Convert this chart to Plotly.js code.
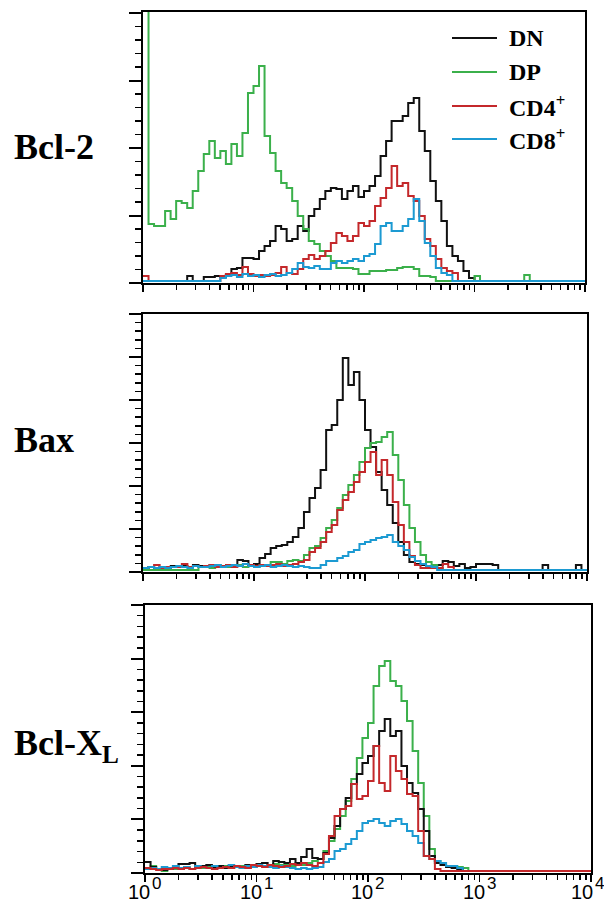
<!DOCTYPE html>
<html>
<head>
<meta charset="utf-8">
<script src="https://cdn.plot.ly/plotly-3.0.1.min.js"></script>
<style>html,body{margin:0;padding:0;background:#fff;}#chart{width:604px;height:904px;}</style>
</head>
<body>
<div id="chart"></div>
<script>
// Fluorescence channel positions (log10 of intensity), shared by all histograms
const logChannel = [0,0.05,0.1,0.15,0.2,0.25,0.3,0.35,0.4,0.45,0.5,0.55,0.6,0.65,0.7,0.75,0.8,0.85,0.9,0.95,
1,1.05,1.1,1.15,1.2,1.25,1.3,1.35,1.4,1.45,1.5,1.55,1.6,1.65,1.7,1.75,1.8,1.85,1.9,1.95,
2,2.05,2.1,2.15,2.2,2.25,2.3,2.35,2.4,2.45,2.5,2.55,2.6,2.65,2.7,2.75,2.8,2.85,2.9,2.95,
3,3.05,3.1,3.15,3.2,3.25,3.3,3.35,3.4,3.45,3.5,3.55,3.6,3.65,3.7,3.75,3.8,3.85,3.9,3.95,4];

const seriesNames = ["DN", "DP", "CD4<sup>+</sup>", "CD8<sup>+</sup>"];
const panelNames = ["Bcl-2", "Bax", "Bcl-X<sub>L</sub>"];
const decadeVals = [1, 10, 100, 1000, 10000];
const decadeBase = "10";
const decadeExp = ["0", "1", "2", "3", "4"];
const minorVals = [2,3,4,5,6,7,8,9, 20,30,40,50,60,70,80,90, 200,300,400,500,600,700,800,900, 2000,3000,4000,5000,6000,7000,8000,9000];

// Bcl-2 panel
const bcl2_DN = [0,0,0,0,0,0,0,0,5,0, 0,4,4,5,4,6,12,13,23,23, 22,30,35,40,55,52,40,42,55,50,
65,72,82,90,93,92,82,90,95,84, 90,95,105,125,140,160,160,165,178,183, 150,130,100,80,60,35,25,20,10,3,
0,0,0,0,0,0,0,0,0,0, 0,0,0,0,0,0,0,0,0,0, 0];
const bcl2_DP = [300,57,55,55,70,62,80,78,73,90, 110,127,140,123,130,117,137,125,148,188, 195,215,145,128,110,98,93,80,65,52,
40,37,30,25,20,13,13,13,12,7, 7,10,10,10,11,11,13,14,14,12, 5,5,4,0,0,0,0,0,0,0,
5,0,0,0,0,0,0,0,0,6, 0,0,0,0,0,0,0,0,0,0, 0];
const bcl2_CD4 = [5,0,0,0,0,0,0,0,0,0, 0,0,0,0,5,7,8,6,14,7, 5,6,5,6,8,14,8,7,12,22,
26,22,25,30,38,48,45,40,45,58, 55,60,75,83,93,115,95,98,85,80, 65,42,35,22,13,10,8,0,0,0,
0,0,0,0,0,0,0,0,0,0, 0,0,0,0,0,0,0,0,0,0, 0];
const bcl2_CD8 = [0,0,0,0,0,0,0,0,0,0, 0,0,0,0,3,5,6,4,7,5, 6,4,6,7,5,6,8,12,18,14,
13,15,12,12,18,20,18,20,22,20, 25,27,37,55,58,50,50,55,62,82, 60,38,25,13,8,6,0,0,0,0,
0,0,0,0,0,0,0,0,0,0, 0,0,0,0,0,0,0,0,0,0, 0];

// Bax panel
const bax_DN = [0,3,0,3,0,4,3,4,3,5, 4,3,5,4,3,5,4,10,9,5, 6,12,16,22,24,25,28,33,42,58,
72,82,100,140,145,170,212,185,198,170, 140,123,98,80,65,47,28,15,8,6, 5,4,3,5,9,8,4,6,2,3,
6,6,6,5,0,0,0,0,0,0, 0,0,5,0,0,0,0,0,5,0, 0];
const bax_DP = [0,0,0,0,0,0,0,0,0,0, 3,4,2,5,3,3,4,5,3,4, 3,5,4,8,8,6,9,10,9,15,
22,24,32,42,50,62,75,85,95,108, 122,127,128,133,138,115,90,65,42,28, 15,8,5,2,0,0,0,0,0,0,
0,0,0,0,0,0,0,0,0,0, 0,0,0,0,0,0,0,0,0,0, 0];
const bax_CD4 = [2,3,5,2,3,3,3,6,3,4, 3,4,5,3,4,5,3,4,6,5, 4,5,4,5,6,4,5,6,8,10,
18,22,28,38,45,60,70,78,88,98, 108,118,95,110,95,68,45,28,14,5, 2,2,2,2,6,3,0,0,0,0,
0,0,0,0,0,0,0,0,0,0, 0,0,0,0,0,0,0,0,0,0, 0];
const bax_CD8 = [2,3,2,3,2,3,4,3,2,4, 3,3,4,5,3,4,5,4,6,4, 3,4,5,3,4,5,4,3,4,3,
2,2,5,9,9,12,14,18,20,26, 28,30,32,33,35,28,24,20,13,9, 6,4,3,0,0,0,0,0,0,0,
0,0,0,0,0,0,0,0,0,0, 0,0,0,0,0,0,0,0,0,0, 0];

// Bcl-XL panel
const bclxl_DN = [9,4,2,1,2,3,7,7,8,4, 5,6,4,5,3,5,4,3,6,4, 7,8,5,10,9,8,12,8,14,22,
13,12,18,33,45,62,73,87,97,108, 115,125,140,152,135,140,105,88,78,62, 40,15,8,6,4,3,2,0,0,0,
0,0,0,0,0,0,0,0,0,0, 0,0,0,0,0,0,0,0,0,0, 0];
const bclxl_DP = [2,5,2,0,3,2,3,4,2,3, 3,4,3,4,5,3,4,5,4,5, 6,5,6,7,6,6,5,8,6,8,
10,12,20,30,42,55,70,92,113,133, 148,185,205,210,190,185,170,150,120,88, 55,22,10,8,5,5,4,3,0,0,
0,0,0,0,0,0,0,0,0,0, 0,0,0,0,0,0,0,0,0,0, 0];
const bclxl_CD4 = [3,2,1,2,2,3,2,3,2,3, 4,3,2,3,4,3,5,4,3,6, 5,4,6,5,4,5,7,6,8,6,
5,8,17,35,55,62,65,87,72,75, 90,125,88,80,115,100,92,77,75,40, 15,12,2,0,0,0,0,0,0,0,
0,0,0,0,0,0,0,0,0,0, 0,0,0,0,0,0,0,0,0,0, 0];
const bclxl_CD8 = [2,3,2,4,3,5,3,4,2,5, 4,3,5,3,4,6,4,3,5,4, 6,5,4,3,5,4,3,2,3,2,
3,4,9,12,20,22,27,32,40,48, 50,52,48,45,50,52,47,40,35,28, 15,12,10,8,5,5,3,0,0,0,
0,0,0,0,0,0,0,0,0,0, 0,0,0,0,0,0,0,0,0,0, 0];

const colors = {DN: "#111111", DP: "#3bb04b", CD4: "#c4282b", CD8: "#1c9ad2"};

const xs = logChannel.map(v => Math.pow(10, v));
function tr(y, color, ax, name) {
  return {x: xs, y: y, type: "scatter", mode: "lines", line: {shape: "hv", color: color, width: 2},
          xaxis: ax[0], yaxis: ax[1], name: name, showlegend: false, hoverinfo: "skip"};
}

const traces = [
  tr(bcl2_DN, colors.DN, ["x", "y"], "DN"),
  tr(bcl2_DP, colors.DP, ["x", "y"], "DP"),
  tr(bcl2_CD4, colors.CD4, ["x", "y"], "CD4+"),
  tr(bcl2_CD8, colors.CD8, ["x", "y"], "CD8+"),
  tr(bax_DN, colors.DN, ["x2", "y2"], "DN"),
  tr(bax_DP, colors.DP, ["x2", "y2"], "DP"),
  tr(bax_CD4, colors.CD4, ["x2", "y2"], "CD4+"),
  tr(bax_CD8, colors.CD8, ["x2", "y2"], "CD8+"),
  tr(bclxl_DP, colors.DP, ["x3", "y3"], "DP"),
  tr(bclxl_DN, colors.DN, ["x3", "y3"], "DN"),
  tr(bclxl_CD8, colors.CD8, ["x3", "y3"], "CD8+"),
  tr(bclxl_CD4, colors.CD4, ["x3", "y3"], "CD4+")
];

function xAxis(domain, anchor) {
  return {domain: domain, anchor: anchor, type: "log", range: [0, 4], showgrid: false, zeroline: false,
    showline: true, mirror: true, linecolor: "#000", linewidth: 2,
    ticks: "outside", ticklen: 7, tickwidth: 1.5, tickcolor: "#000",
    tickmode: "array", tickvals: decadeVals, showticklabels: false,
    minor: {tickmode: "array", tickvals: minorVals, ticks: "outside", ticklen: 5, tickwidth: 1.5, tickcolor: "#000", showgrid: false}};
}
function yAxis(domain, anchor, top, major) {
  return {domain: domain, anchor: anchor, range: [-2, top], showgrid: false, zeroline: false,
    showline: true, mirror: true, linecolor: "#000", linewidth: 2,
    ticks: "outside", ticklen: 12, tickwidth: 2, tickcolor: "#000",
    tick0: -2, dtick: major, showticklabels: false,
    minor: {ticks: "outside", ticklen: 6, tickwidth: 1.5, tickcolor: "#000", tick0: -2, dtick: major / 5, showgrid: false}};
}

const H = 904, W = 604;
const px = v => v / W;
const py = v => 1 - v / H;

const legendY = [38, 72, 106, 139];
const legendColors = [colors.DN, colors.DP, colors.CD4, colors.CD8];
const shapes = legendY.map((y, i) => ({type: "line", xref: "paper", yref: "paper",
  x0: px(452), x1: px(497), y0: py(y), y1: py(y), line: {color: legendColors[i], width: 2}}));
const annotations = legendY.map((y, i) => ({xref: "paper", yref: "paper", x: px(507), y: py(y),
  xanchor: "left", yanchor: "middle", showarrow: false, text: "<b>" + seriesNames[i] + "</b>",
  font: {family: "Liberation Serif, Times New Roman, serif", size: 24, color: "#000"}}));
const labelY = [147, 440, 745];
labelY.forEach((y, i) => annotations.push({xref: "paper", yref: "paper", x: px(12), y: py(y),
  xanchor: "left", yanchor: "middle", showarrow: false, text: "<b>" + panelNames[i] + "</b>",
  font: {family: "Liberation Serif, Times New Roman, serif", size: 36, color: "#000"}}));

// decade tick labels of the bottom axis: base "10" and raised exponent
const tickFont = "Liberation Sans, Arial, sans-serif";
decadeVals.forEach((v, i) => {
  const shift = (i === decadeVals.length - 1) ? 3 : 6;
  annotations.push({xref: "x3", yref: "paper", x: Math.log10(v), y: py(892), xanchor: "right", yanchor: "middle",
    xshift: shift, borderpad: 0, showarrow: false, text: decadeBase, font: {family: tickFont, size: 20, color: "#000"}});
  annotations.push({xref: "x3", yref: "paper", x: Math.log10(v), y: py(883), xanchor: "left", yanchor: "middle",
    xshift: shift, borderpad: 0, showarrow: false, text: decadeExp[i], font: {family: tickFont, size: 17, color: "#000"}});
});

const layout = {
  width: W, height: H, margin: {l: 0, r: 0, t: 0, b: 0},
  paper_bgcolor: "#fff", plot_bgcolor: "#fff", showlegend: false,
  xaxis: xAxis([px(143), px(585)], "y"),
  yaxis: yAxis([py(283), py(12)], "x", 269, 67.5),
  xaxis2: xAxis([px(143), px(587)], "y2"),
  yaxis2: yAxis([py(572), py(314)], "x2", 256, 43),
  xaxis3: xAxis([px(145), px(591)], "y3"),
  yaxis3: yAxis([py(873), py(605)], "x3", 266, 53.6),
  shapes: shapes, annotations: annotations
};

Plotly.newPlot("chart", traces, layout, {staticPlot: true, displayModeBar: false});
</script>
</body>
</html>
